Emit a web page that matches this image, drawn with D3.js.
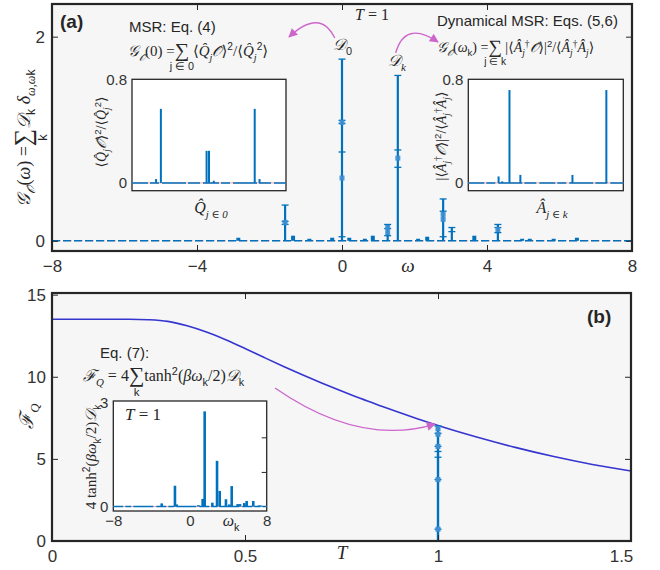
<!DOCTYPE html>
<html>
<head>
<meta charset="utf-8">
<script src="https://cdn.jsdelivr.net/npm/d3@7"></script>
<style>
body { margin: 0; background: #fff; }
svg { display: block; }
text { font-family: "Liberation Sans", Arial, sans-serif; fill: #262626; }
.tick text { font-size: 17px; fill: #333; font-family: "Liberation Sans", Arial, sans-serif; }
.inset .tick text { font-size: 15px; }
.tick line { stroke: #262626; }
.m { font-family: "Liberation Serif", "DejaVu Serif", serif; }
.it { font-style: italic; }
</style>
</head>
<body>
<script>
// Colours
const blue = "#0072bd";
const pink = "#ff9e9e";
const magenta = "#cc66cc";
const curveBlue = "#3535cf";

// Panel (a): spectral weights D_k at omega_k (T = 1)
const peakOmega = [-1.57, 0, 1.26, 1.54, 2.79, 3.03, 4.3];
const peakTop = [0.35, 1.78, 0.16, 1.62, 0.41, 0.13, 0.16];
const peakCaps = [[0.35, 0.19, 0.16], [1.78, 1.18, 1.15, 0.87, 0.04], [0.16, 0.12, 0.05], [1.62, 0.89, 0.72], [0.41, 0.29, 0.04], [0.13, 0.09], [0.16, 0.13, 0.08]];
const peakBoxes = [[0.18], [1.16, 0.615], [0.13, 0.08], [0.81], [0.26, 0.21], [], [0.11]];
const smallOmega = [-2.86, -1.35, -0.9, -0.27, 0.2, 0.63, 0.85, 2.1, 2.35, 3.65, 4.97, 5.18, 5.84, 6.48];
const smallValue = [0.03, 0.05, 0.02, 0.03, 0.03, 0.02, 0.05, 0.02, 0.04, 0.05, 0.02, 0.02, 0.02, 0.03];

// Inset (a) left: <Q_j O>^2 / <Q_j^2> per operator index
const qIndex = [10, 12, 31, 32, 34, 51, 53];
const qValue = [0.03, 0.572, 0.248, 0.248, 0.017, 0.572, 0.03];

// Inset (a) right: |<A_j^+ O>|^2 / <A_j^+ A_j> per operator index
const aIndex = [25, 28, 34, 43, 86, 114];
const aValue = [0.05, 0.012, 0.717, 0.062, 0.062, 0.717];

// Panel (b): quantum Fisher information vs temperature
const tempT = [0, 0.1, 0.2, 0.25, 0.3, 0.35, 0.4, 0.45, 0.5, 0.55, 0.6, 0.65, 0.7, 0.75, 0.8, 0.85, 0.9, 0.95, 1.0, 1.1, 1.2, 1.3, 1.4, 1.5];
const fisherQ = [13.5, 13.5, 13.5, 13.47, 13.37, 13.1, 12.72, 12.25, 11.72, 11.17, 10.63, 10.11, 9.61, 9.13, 8.67, 8.24, 7.82, 7.42, 7.03, 6.33, 5.7, 5.14, 4.66, 4.26];
// stacked contributions at T = 1
const spikeT = 1;
const spikeTop = 7.0;
const spikeCaps = [7.0, 6.55, 5.76, 5.45, 5.1, 3.74, 0.72];
const spikeBoxes = [6.85, 6.5, 5.76, 3.74, 0.72];

// Inset (b): 4 tanh^2(beta w_k / 2) D_k
const wOmega = [-2.95, -1.57, -1.39, 0.87, 1.32, 1.53, 2.33, 2.82, 3.1, 3.75, 4.1, 4.35, 4.97, 5.22, 5.66, 5.91, 6.6, 7.2, 7.4];
const wValue = [0.09, 0.6, 0.06, 0.04, 0.22, 2.75, 0.11, 1.32, 0.45, 0.21, 0.06, 0.59, 0.07, 0.07, 0.1, 0.16, 0.16, 0.03, 0.03];

const fmt = d3.format("~g");

const svg = d3.select("body").append("svg").attr("width", 660).attr("height", 570);

svg.append("defs").append("marker")
    .attr("id", "head")
    .attr("viewBox", "0 0 10 10")
    .attr("refX", 9).attr("refY", 5)
    .attr("markerWidth", 10).attr("markerHeight", 9)
    .attr("markerUnits", "userSpaceOnUse")
    .attr("orient", "auto")
    .append("path").attr("d", "M0,0L10,5L0,10z").attr("fill", magenta);

// rich text: parts are [string, kind, under]; kind letters: m serif, i italic, _ sub, ^ sup, L large
function rich(parent, x, y, parts, size, anchor) {
    const t = parent.append("text").attr("x", x).attr("y", y)
        .style("font-size", size + "px")
        .attr("text-anchor", anchor || "start");
    let shift = 0;
    const unders = [];
    parts.forEach(p => {
        const kind = p[1] || "";
        let target = 0, fs = size;
        if (kind.includes("_")) { target = size * 0.3; fs = size * 0.68; }
        if (kind.includes("^")) { target = -size * 0.38; fs = size * 0.68; }
        if (kind.includes("L")) { fs = size * 1.35; target = size * 0.08; }
        const cls = (kind.includes("m") ? "m " : "") + (kind.includes("i") ? "it" : "");
        const ts = t.append("tspan").text(p[0])
            .attr("dy", (target - shift).toFixed(2))
            .style("font-size", fs + "px");
        if (cls.trim()) ts.attr("class", cls.trim());
        shift = target;
        if (p[2]) unders.push([ts, p[2]]);
    });
    unders.forEach(([ts, str]) => {
        const b = ts.node().getBBox();
        parent.append("text")
            .attr("x", b.x + b.width / 2)
            .attr("y", y + size * 0.95)
            .attr("text-anchor", "middle")
            .style("font-size", (size * 0.72) + "px")
            .text(str);
    });
    return t;
}

function frame(g, x, y, fill, sw) {
    const [x0, x1] = x.range(), [y0, y1] = y.range();
    g.append("rect").attr("x", x0).attr("y", y1)
        .attr("width", x1 - x0).attr("height", y0 - y1)
        .attr("fill", fill).attr("stroke", "#262626").attr("stroke-width", sw);
}

function dropDomain(g) { g.select(".domain").remove(); }

// ---------------- Panel (a) ----------------
const xA = d3.scaleLinear().domain([-8, 8]).range([52, 632]);
const yA = d3.scaleLinear().domain([-0.1, 2.32]).range([251, 4]);
const gA = svg.append("g");

gA.append("rect").attr("x", 52).attr("y", 4).attr("width", 580).attr("height", 247).attr("fill", "#f6f6f6");

// zero line
gA.append("line").attr("x1", xA(-8)).attr("x2", xA(8)).attr("y1", yA(0)).attr("y2", yA(0))
    .attr("stroke", pink).attr("stroke-width", 1).attr("stroke-dasharray", "6,2,1,2");
gA.append("line").attr("x1", xA(-8)).attr("x2", xA(8)).attr("y1", yA(0)).attr("y2", yA(0))
    .attr("stroke", blue).attr("stroke-width", 1.6).attr("stroke-dasharray", "8,3");

// small weights
gA.selectAll(".small").data(smallOmega).join("rect")
    .attr("x", d => xA(d) - 2)
    .attr("y", (d, i) => yA(smallValue[i]))
    .attr("width", 4)
    .attr("height", (d, i) => yA(0) - yA(smallValue[i]))
    .attr("fill", blue);

// main peaks with error caps
peakOmega.forEach((w, i) => {
    gA.append("line").attr("x1", xA(w)).attr("x2", xA(w))
        .attr("y1", yA(0)).attr("y2", yA(peakTop[i]))
        .attr("stroke", blue).attr("stroke-width", 2.2);
    peakCaps[i].forEach(v => {
        gA.append("line").attr("x1", xA(w) - 3.5).attr("x2", xA(w) + 3.5)
            .attr("y1", yA(v)).attr("y2", yA(v))
            .attr("stroke", blue).attr("stroke-width", 1.3);
    });
    peakBoxes[i].forEach(v => {
        gA.append("rect").attr("x", xA(w) - 2.5).attr("y", yA(v) - 2.5)
            .attr("width", 5).attr("height", 5)
            .attr("fill", "#3b8fd3").attr("opacity", 0.9);
    });
});

frame(gA, xA, yA, "none", 2.2);
gA.append("g").attr("transform", `translate(0,${yA.range()[0]})`)
    .call(d3.axisBottom(xA).tickValues([-8, -4, 0, 4, 8]).tickSizeInner(-6).tickSizeOuter(0).tickPadding(9).tickFormat(fmt))
    .call(dropDomain);
gA.append("g").attr("transform", `translate(0,${yA.range()[1]})`)
    .call(d3.axisTop(xA).tickValues([-4, 0, 4]).tickSizeInner(-6).tickSizeOuter(0).tickFormat(""))
    .call(dropDomain);
gA.append("g").attr("transform", `translate(${xA.range()[0]},0)`)
    .call(d3.axisLeft(yA).tickValues([0, 2]).tickSizeInner(-6).tickSizeOuter(0).tickPadding(7).tickFormat(fmt))
    .call(dropDomain);
gA.append("g").attr("transform", `translate(${xA.range()[1]},0)`)
    .call(d3.axisRight(yA).tickValues([0, 2]).tickSizeInner(-6).tickSizeOuter(0).tickFormat(""))
    .call(dropDomain);

// axis labels (a)
rich(gA, 408, 272, [["ω", "mi"]], 19, "middle");
const yLabA = gA.append("g").attr("transform", "translate(30,138) rotate(-90)");
rich(yLabA, 0, 0, [["𝒢", "mi"], ["𝒪̂", "mi_"], ["(", "m"], ["ω", "mi"], [") =", "m"], ["∑", "mL", "k"],
    ["𝒟", "mi"], ["k", "_"], [" δ", "mi"], ["ω,ω", "mi_"], ["k", "_"]], 18, "middle");

// annotations (a)
gA.append("text").attr("x", 60).attr("y", 28).style("font-size", "19px").style("font-weight", "bold").text("(a)");
gA.append("text").attr("x", 129).attr("y", 32).style("font-size", "15px").text("MSR: Eq. (4)");
rich(gA, 128, 56, [["𝒢", "mi"], ["𝒪̂", "mi_"], ["(0) =", "m"], ["∑", "mL", "j ∈ 0"], [" ⟨", "m"], ["Q̂", "mi"], ["j", "mi_"],
    ["𝒪̂", "mi"], ["⟩", "m"], ["2", "^"], ["/⟨", "m"], ["Q̂", "mi"], ["j", "mi_"], ["2", "^"], ["⟩", "m"]], 15);
rich(gA, 355, 20, [["T", "mi"], [" = 1", "m"]], 16);
gA.append("text").attr("x", 437).attr("y", 26).style("font-size", "15px").text("Dynamical MSR: Eqs. (5,6)");
rich(gA, 437, 52, [["𝒢", "mi"], ["𝒪̂", "mi_"], ["(", "m"], ["ω", "mi"], ["k", "_"], [") =", "m"], ["∑", "mL", "j ∈ k"],
    [" |⟨", "m"], ["Â", "mi"], ["j", "mi_"], ["†", "m^"], ["𝒪̂", "mi"], ["⟩|", "m"], ["2", "^"], ["/⟨", "m"],
    ["Â", "mi"], ["j", "mi_"], ["†", "m^"], ["Â", "mi"], ["j", "mi_"], ["⟩", "m"]], 14);
rich(gA, 333, 50, [["𝒟", "mi"], ["0", "_"]], 16);
rich(gA, 388, 66, [["𝒟", "mi"], ["k", "mi_"]], 16);

gA.append("path")
    .attr("d", `M${xA(-0.2)},38 Q320,8 289,37`)
    .attr("fill", "none").attr("stroke", magenta).attr("stroke-width", 1.3)
    .attr("marker-end", "url(#head)");
gA.append("path")
    .attr("d", `M${xA(1.48)},53 Q405,20 438,42`)
    .attr("fill", "none").attr("stroke", magenta).attr("stroke-width", 1.3)
    .attr("marker-end", "url(#head)");

// insets (a)
function barInset(x0, x1, idx, vals, n) {
    const x = d3.scaleLinear().domain([0, n]).range([x0, x1]);
    const y = d3.scaleLinear().domain([-0.06, 0.8]).range([190.7, 79.3]);
    const g = gA.append("g").attr("class", "inset");
    frame(g, x, y, "#fff", 1.3);
    g.append("line").attr("x1", x0).attr("x2", x1).attr("y1", y(0)).attr("y2", y(0))
        .attr("stroke", pink).attr("stroke-width", 1);
    g.append("line").attr("x1", x0).attr("x2", x1).attr("y1", y(0)).attr("y2", y(0))
        .attr("stroke", blue).attr("stroke-width", 1.4).attr("stroke-dasharray", "16,2,9,3,24,2,12,3");
    g.selectAll(".bar").data(idx).join("rect")
        .attr("x", d => x(d) - 1)
        .attr("y", (d, i) => y(vals[i]))
        .attr("width", 2)
        .attr("height", (d, i) => y(0) - y(vals[i]))
        .attr("fill", blue);
    g.append("g").attr("transform", `translate(${x0},0)`)
        .call(d3.axisLeft(y).tickValues([0, 0.8]).tickSize(0).tickPadding(5).tickFormat(fmt))
        .call(dropDomain);
    return { g, x, y };
}

const insL = barInset(132, 286, qIndex, qValue, 64);
const insLy = insL.g.append("g").attr("transform", "translate(106,132) rotate(-90)");
rich(insLy, 0, 0, [["⟨", "m"], ["Q̂", "mi"], ["j", "mi_"], ["𝒪̂", "mi"], ["⟩", "m"], ["2", "^"], ["/⟨", "m"],
    ["Q̂", "mi"], ["j", "mi_"], ["2", "^"], ["⟩", "m"]], 14, "middle");
rich(insL.g, 211, 213, [["Q̂", "mi"], ["j ∈ 0", "mi_"]], 16, "middle");

const insR = barInset(468.3, 623.3, aIndex, aValue, 128);
const insRy = insR.g.append("g").attr("transform", "translate(446,136) rotate(-90)");
rich(insRy, 0, 0, [["|⟨", "m"], ["Â", "mi"], ["j", "mi_"], ["†", "m^"], ["𝒪̂", "mi"], ["⟩|", "m"], ["2", "^"], ["/⟨", "m"],
    ["Â", "mi"], ["j", "mi_"], ["†", "m^"], ["Â", "mi"], ["j", "mi_"], ["⟩", "m"]], 14, "middle");
rich(insR.g, 552, 213, [["Â", "mi"], ["j ∈ k", "mi_"]], 16, "middle");

// ---------------- Panel (b) ----------------
const xB = d3.scaleLinear().domain([0, 1.5]).range([52, 631]);
const yB = d3.scaleLinear().domain([0, 15.1]).range([541, 293]);
const gB = svg.append("g");

gB.append("rect").attr("x", 52).attr("y", 293).attr("width", 579).attr("height", 248).attr("fill", "#f6f6f6");

gB.append("path")
    .datum(tempT)
    .attr("d", d3.line()
        .x(d => xB(d))
        .y((d, i) => yB(fisherQ[i]))
        .curve(d3.curveMonotoneX))
    .attr("fill", "none").attr("stroke", curveBlue).attr("stroke-width", 1.6);

// stacked contributions at T = 1
gB.append("line").attr("x1", xB(spikeT)).attr("x2", xB(spikeT))
    .attr("y1", yB(0)).attr("y2", yB(spikeTop))
    .attr("stroke", blue).attr("stroke-width", 2.4);
spikeCaps.forEach(v => {
    gB.append("line").attr("x1", xB(spikeT) - 3.5).attr("x2", xB(spikeT) + 3.5)
        .attr("y1", yB(v)).attr("y2", yB(v)).attr("stroke", blue).attr("stroke-width", 1.3);
});
spikeBoxes.forEach(v => {
    gB.append("rect").attr("x", xB(spikeT) - 2.5).attr("y", yB(v) - 2.5)
        .attr("width", 5).attr("height", 5).attr("fill", "#3b8fd3");
});

frame(gB, xB, yB, "none", 2.2);
gB.append("g").attr("transform", `translate(0,${yB.range()[0]})`)
    .call(d3.axisBottom(xB).tickValues([0, 0.5, 1, 1.5]).tickSizeInner(-6).tickSizeOuter(0).tickPadding(9).tickFormat(fmt))
    .call(dropDomain)
    .call(g => g.selectAll(".tick text").filter(d => d === 1.5).attr("dx", -10));
gB.append("g").attr("transform", `translate(0,${yB.range()[1]})`)
    .call(d3.axisTop(xB).tickValues([0.5, 1]).tickSizeInner(-6).tickSizeOuter(0).tickFormat(""))
    .call(dropDomain);
gB.append("g").attr("transform", `translate(${xB.range()[0]},0)`)
    .call(d3.axisLeft(yB).tickValues([0, 5, 10, 15]).tickSizeInner(-6).tickSizeOuter(0).tickPadding(6).tickFormat(fmt))
    .call(dropDomain);
gB.append("g").attr("transform", `translate(${xB.range()[1]},0)`)
    .call(d3.axisRight(yB).tickValues([5, 10]).tickSizeInner(-6).tickSizeOuter(0).tickFormat(""))
    .call(dropDomain);

rich(gB, 342, 559, [["T", "mi"]], 19, "middle");
const yLabB = gB.append("g").attr("transform", "translate(33,416) rotate(-90)");
rich(yLabB, 0, 0, [["ℱ", "mi"], ["Q", "mi_"]], 19, "middle");

gB.append("text").attr("x", 587).attr("y", 323).style("font-size", "19px").style("font-weight", "bold").text("(b)");
gB.append("text").attr("x", 100).attr("y", 358).style("font-size", "15px").text("Eq. (7):");
rich(gB, 83, 381, [["ℱ", "mi"], ["Q", "mi_"], [" = 4", "m"], ["∑", "mL", "k"], ["tanh", "m"], ["2", "^"], ["(", "m"],
    ["βω", "mi"], ["k", "_"], ["/2)", "m"], ["𝒟", "mi"], ["k", "_"]], 16);

gB.append("path")
    .attr("d", `M275,388 Q360,447 ${xB(spikeT) - 3},${yB(spikeTop) - 2}`)
    .attr("fill", "none").attr("stroke", magenta).attr("stroke-width", 1.3)
    .attr("marker-end", "url(#head)");

// inset (b)
const xI = d3.scaleLinear().domain([-8, 8]).range([113.3, 266.7]);
const yI = d3.scaleLinear().domain([-0.13, 3.05]).range([511, 401]);
const gI = gB.append("g").attr("class", "inset");
frame(gI, xI, yI, "#fff", 1.3);
gI.append("line").attr("x1", xI(-8)).attr("x2", xI(8)).attr("y1", yI(0)).attr("y2", yI(0))
    .attr("stroke", pink).attr("stroke-width", 1);
gI.append("line").attr("x1", xI(-8)).attr("x2", xI(8)).attr("y1", yI(0)).attr("y2", yI(0))
    .attr("stroke", blue).attr("stroke-width", 1.4).attr("stroke-dasharray", "10,2,6,2,20,3");
gI.selectAll(".bar").data(wOmega).join("rect")
    .attr("x", d => xI(d) - 1.3)
    .attr("y", (d, i) => yI(wValue[i]))
    .attr("width", 2.6)
    .attr("height", (d, i) => yI(0) - yI(wValue[i]))
    .attr("fill", blue);
gI.append("g").attr("transform", `translate(0,${yI.range()[0]})`)
    .call(d3.axisBottom(xI).tickValues([-8, 0, 8]).tickSize(0).tickPadding(4).tickFormat(fmt))
    .call(dropDomain);
gI.append("g").attr("transform", `translate(${xI.range()[0]},0)`)
    .call(d3.axisLeft(yI).tickValues([0, 3]).tickSize(0).tickPadding(5).tickFormat(fmt))
    .call(dropDomain);
gI.append("g").attr("transform", `translate(${xI.range()[1]},0)`)
    .call(d3.axisRight(yI).tickValues([1, 2]).tickSizeInner(-5).tickSizeOuter(0).tickFormat(""))
    .call(dropDomain);
rich(gI, 125, 420, [["T", "mi"], [" = 1", "m"]], 17);
rich(gI, 231, 526, [["ω", "mi"], ["k", "_"]], 16, "middle");
const yLabI = gI.append("g").attr("transform", "translate(96,457) rotate(-90)");
rich(yLabI, 0, 0, [["4 tanh", "m"], ["2", "^"], ["(", "m"], ["βω", "mi"], ["k", "_"], ["/2)", "m"], ["𝒟", "mi"], ["k", "_"]], 15, "middle");
</script>
</body>
</html>
